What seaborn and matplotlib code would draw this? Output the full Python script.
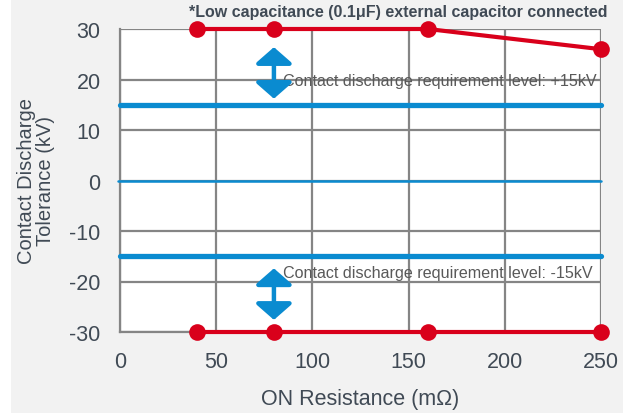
import numpy as np
import pandas as pd
import matplotlib
matplotlib.use("Agg")
import matplotlib.pyplot as plt
from matplotlib.patches import Rectangle
import seaborn as sns

# data
on_resistance = [40, 80, 160, 250]
upper_tolerance = [30, 30, 30, 26]
lower_tolerance = [-30, -30, -30, -30]
requirement_levels = [15, -15]
x_ticks = [0, 50, 100, 150, 200, 250]
y_ticks = [-30, -20, -10, 0, 10, 20, 30]
upper_note = "Contact discharge requirement level: +15kV"
lower_note = "Contact discharge requirement level: -15kV"
title = "*Low capacitance (0.1\u03bcF) external capacitor connected"

red = "#d9001b"
blue = "#0a8bd0"
grid_col = "#858585"
text_col = "#404a55"

sns.set_style("white")
plt.rcParams["font.family"] = ["Liberation Sans", "DejaVu Sans"]
plt.rcParams["axes.unicode_minus"] = False

fig = plt.figure(figsize=(6.23, 4.14), dpi=100, facecolor="#f2f2f2")
fig.patches.append(Rectangle((0, 0), 11 / 623, 1, transform=fig.transFigure,
                             facecolor="white", edgecolor="none", zorder=0))
ax = fig.add_axes([120 / 623, 81 / 414, 481 / 623, 303 / 414])
ax.set_facecolor("white")

df = pd.DataFrame({
    "x": on_resistance * 2,
    "y": upper_tolerance + lower_tolerance,
    "side": ["upper"] * 4 + ["lower"] * 4,
})

# requirement levels and zero line
for lvl in requirement_levels:
    ax.axhline(lvl, color=blue, lw=3.8, zorder=3)
ax.axhline(0, xmin=-0.005, color=blue, lw=1.8, zorder=3, clip_on=False)

sns.lineplot(data=df, x="x", y="y", units="side", estimator=None, ax=ax,
             color=red, lw=3, marker="o", markersize=12, markeredgewidth=0,
             zorder=5, clip_on=False, legend=False)
for ln in ax.lines:
    ln.set_clip_on(False)

# double arrows
arrow_kw = dict(arrowstyle="<|-|>,head_width=0.8,head_length=0.7",
                color=blue, lw=3.2, shrinkA=0, shrinkB=0, mutation_scale=14)
ax.annotate("", xy=(80, 26.4), xytext=(80, 16.2), arrowprops=arrow_kw, zorder=4)
ax.annotate("", xy=(80, -17.4), xytext=(80, -27.6), arrowprops=arrow_kw, zorder=4)

ax.text(84.5, 19.9, upper_note, fontsize=11.6, color="#595959", va="center", ha="left", zorder=2)
ax.text(84.5, -18.2, lower_note, fontsize=11.6, color="#595959", va="center", ha="left", zorder=6)

ax.set_xlim(0, 250)
ax.set_ylim(-30, 30)
ax.set_xticks(x_ticks)
ax.set_yticks(y_ticks)
ax.grid(True, color=grid_col, lw=1.6)
ax.set_axisbelow(True)
ax.tick_params(axis="both", length=0, labelsize=15.5, labelcolor=text_col)
ax.tick_params(axis="y", pad=14)
ax.tick_params(axis="x", pad=14)
for s in ["top", "right"]:
    ax.spines[s].set_visible(False)
for s in ["left", "bottom"]:
    ax.spines[s].set_color(grid_col)
    ax.spines[s].set_linewidth(1.6)

ax.set_xlabel("ON Resistance (m\u03a9)", fontsize=15.5, color=text_col, labelpad=11)
ax.set_ylabel("Contact Discharge\nTolerance (kV)", fontsize=14.5, color=text_col,
              labelpad=10, linespacing=1.0)

fig.text(398 / 623, 1 - 12 / 414, title, fontsize=11.5, fontweight="bold",
         color=text_col, ha="center", va="center")

fig.savefig("out.png", dpi=100, facecolor=fig.get_facecolor())
